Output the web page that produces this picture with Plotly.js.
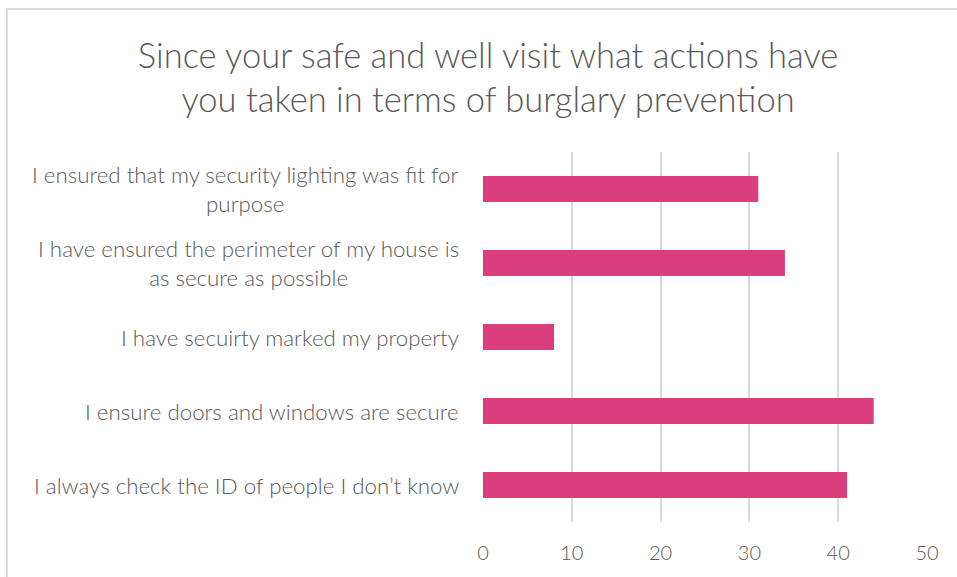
<!DOCTYPE html>
<html>
<head>
<meta charset="utf-8">
<script src="https://cdn.plot.ly/plotly-3.0.1.min.js"></script>
<style>
  html, body { margin: 0; padding: 0; background: #fff; }
  #wrap { position: relative; width: 957px; height: 577px; overflow: hidden; }
  #chart { position: absolute; left: 0; top: 0; width: 957px; height: 577px; }
  #frame { position: absolute; left: 6px; top: 8px; width: 1000px; height: 1000px;
           border-left: 2px solid #d9d9d9; border-top: 2px solid #d9d9d9; pointer-events: none; }
</style>
</head>
<body>
<div id="wrap">
  <div id="chart"></div>
  <div id="frame"></div>
</div>
<script>
const categories = [
  "I ensured that my security lighting was fit for<br>purpose",
  "I have ensured the perimeter of my house is<br>as secure as possible",
  "I have secuirty marked my property",
  "I ensure doors and windows are secure",
  "I always check the ID of people I don\u2019t know"
];
const values = [31, 34, 8, 44, 41];
const xTicks = [0, 10, 20, 30, 40, 50];
const titleText = "Since your safe and well visit what actions have<br>you taken in terms of burglary prevention";

const textColor = "#595959";
const fontFam = "Lato, 'Open Sans', sans-serif";

const trace = {
  type: "bar",
  orientation: "h",
  x: values,
  y: categories,
  marker: { color: "#DA3E7D" },
  hoverinfo: "x+y"
};

const annotations = categories.map(c => ({
  text: c,
  xref: "paper", yref: "y",
  x: 0, y: c,
  xanchor: "right", yanchor: "middle",
  xshift: -22,
  align: "center",
  showarrow: false,
  font: { family: fontFam, size: 22.3, color: textColor, weight: 300 }
}));

const layout = {
  width: 957, height: 577,
  margin: { l: 483, r: 30, t: 152, b: 55 },
  paper_bgcolor: "#ffffff",
  plot_bgcolor: "#ffffff",
  bargap: 0.65,
  showlegend: false,
  title: {
    text: titleText,
    xref: "container", x: 0.51, xanchor: "center",
    yref: "container", y: 0.883, yanchor: "middle",
    font: { family: fontFam, size: 34.5, color: textColor, weight: 300 }
  },
  xaxis: {
    range: [0, 50],
    tickvals: xTicks,
    ticktext: xTicks.map(String),
    showgrid: true,
    gridcolor: "#d9d9d9",
    gridwidth: 2,
    zeroline: false,
    showline: false,
    ticks: "",
    ticklabelstandoff: 17,
    tickfont: { family: fontFam, size: 20, color: textColor, weight: 300 },
    fixedrange: true
  },
  yaxis: {
    type: "category",
    autorange: "reversed",
    showticklabels: false,
    showgrid: false,
    zeroline: false,
    showline: false,
    ticks: "",
    fixedrange: true
  },
  annotations: annotations
};

Plotly.newPlot("chart", [trace], layout, { displayModeBar: false, staticPlot: true });
</script>
</body>
</html>
